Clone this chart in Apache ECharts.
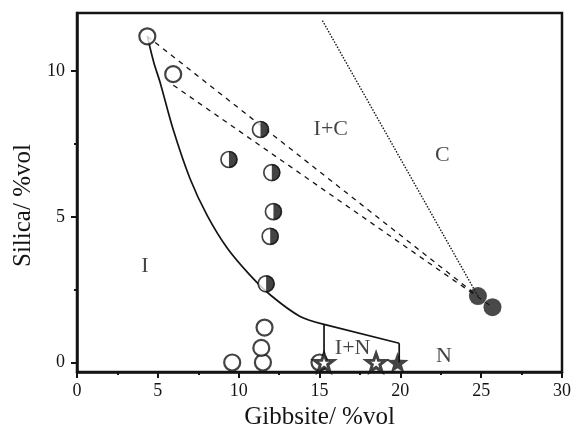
<!DOCTYPE html>
<html>
<head>
<meta charset="utf-8">
<script src="https://cdn.jsdelivr.net/npm/echarts@6/dist/echarts.min.js"></script>
<style>
  html, body { margin: 0; padding: 0; background: #fff; }
  #chart { width: 575px; height: 435px; }
</style>
</head>
<body>
<div id="chart"></div>
<script>
// points, [gibbsite, silica] in %vol
const openCircles = [[4.35, 11.2], [5.95, 9.9], [9.6, 0], [11.5, 0], [11.4, 0.5], [11.6, 1.2], [15.0, 0]];
const halfCircles = [[11.35, 8.0], [9.4, 6.97], [12.05, 6.52], [12.15, 5.18], [11.95, 4.33], [11.7, 2.7]];
const filledCircles = [[24.8, 2.28], [25.7, 1.9]];
const openStars = [[15.28, 0], [18.5, 0]];
const filledStars = [[19.83, 0]];

// phase boundaries
const boundaryCurve = [[4.35, 11.2], [4.75, 10.3], [5.15, 9.6], [5.95, 8.0], [7.0, 6.3],
  [8.05, 5.05], [9.3, 3.92], [10.7, 3.0], [12.0, 2.3], [13.8, 1.58], [15.28, 1.31]];
const ionBoundary = [[15.28, 1.31], [19.93, 0.66]];
const leftWall = [[15.28, 1.31], [15.28, 0]];
const rightWall = [[19.93, 0.66], [19.93, 0]];
const tieLineUpper = [[4.35, 11.2], [24.8, 2.28]];
const tieLineLower = [[5.96, 9.52], [25.7, 1.9]];
const dottedLine = [[15.18, 11.74], [24.8, 2.28]];

// region names and where they sit
const regionNames = ["I+C", "C", "I", "I+N", "N"];
const regionCoords = [[15.7, 8.0], [22.6, 7.1], [4.2, 3.3], [17.05, 0.5], [22.7, 0.2]];

// axes
const xTicks = [0, 5, 10, 15, 20, 25, 30];
const yMajor = [0, 5, 10];
const yMinor = [2.5, 7.5];

const serif = "Liberation Serif";
const ink = "#141414";
const starPath = "path://M0,-10L2.35,-3.24L9.51,-3.09L3.8,1.24L5.88,8.09L0,4L-5.88,8.09L-3.8,1.24L-9.51,-3.09L-2.35,-3.24Z";
const halfDisc = "path://M0,0A10,10 0 0,1 0,20Z";

const chart = echarts.init(document.getElementById("chart"));

function line(data, type, width) {
  return {
    type: "line",
    data: data,
    showSymbol: false,
    silent: true,
    lineStyle: { color: ink, width: width, type: type },
    z: 2,
  };
}

const curve = line(boundaryCurve, "solid", 1.7);
curve.smooth = 0.3;

const options = {
  animation: false,
  grid: {
    left: 77, right: 13, top: 13, bottom: 61,
    show: true, borderColor: ink, borderWidth: 2.5,
  },
  xAxis: {
    type: "value",
    min: xTicks[0],
    max: xTicks[xTicks.length - 1],
    interval: 5,
    name: "Gibbsite/ %vol",
    nameLocation: "middle",
    nameGap: 29,
    nameTextStyle: { fontFamily: serif, fontSize: 25, color: ink },
    axisLine: { onZero: false, lineStyle: { color: ink, width: 2.5 } },
    axisTick: { length: 6, lineStyle: { color: ink, width: 2 } },
    minorTick: { show: true, splitNumber: 2, length: 3, lineStyle: { color: ink, width: 2 } },
    splitLine: { show: false },
    axisLabel: { fontFamily: serif, fontSize: 18, color: ink, margin: 10 },
  },
  yAxis: [
    {
      type: "value",
      min: -0.33,
      max: 12,
      name: "Silica/ %vol",
      nameLocation: "middle",
      nameGap: 37,
      nameTextStyle: { fontFamily: serif, fontSize: 25, color: ink, padding: [0, 26, 0, 0] },
      axisLine: { onZero: false, lineStyle: { color: ink, width: 2.5 } },
      axisTick: { length: 6, customValues: yMajor, lineStyle: { color: ink, width: 2 } },
      splitLine: { show: false },
      axisLabel: { fontFamily: serif, fontSize: 18, color: ink, margin: 12, customValues: yMajor },
    },
    {
      type: "value",
      min: -0.33,
      max: 12,
      position: "left",
      axisLine: { show: false, onZero: false },
      axisTick: { length: 3, customValues: yMinor, lineStyle: { color: ink, width: 2 } },
      splitLine: { show: false },
      axisLabel: { show: false },
    },
  ],
  series: [
    curve,
    line(ionBoundary, "solid", 1.7),
    line(leftWall, "solid", 1.7),
    line(rightWall, "solid", 1.7),
    line(tieLineUpper, [5, 5], 1.3),
    line(tieLineLower, [5, 5], 1.3),
    line(dottedLine, [1.5, 1.5], 1.4),
    {
      type: "scatter",
      data: openCircles,
      symbol: "circle",
      symbolSize: 16,
      itemStyle: { color: "#fff", borderColor: ink, borderWidth: 2.2 },
      z: 3,
    },
    {
      type: "scatter",
      data: halfCircles,
      symbol: "circle",
      symbolSize: 16,
      itemStyle: { color: "#fff", borderColor: ink, borderWidth: 1.7 },
      z: 3,
    },
    {
      type: "scatter",
      data: halfCircles,
      symbol: halfDisc,
      symbolSize: [8.5, 17],
      symbolOffset: [4.25, 0],
      itemStyle: { color: ink },
      z: 4,
    },
    {
      type: "scatter",
      data: filledCircles,
      symbol: "circle",
      symbolSize: 18,
      itemStyle: { color: "#1c1c1c" },
      z: 3,
    },
    {
      type: "scatter",
      data: openStars,
      symbol: starPath,
      symbolKeepAspect: true,
      symbolSize: 19,
      itemStyle: { color: "#fff", borderColor: ink, borderWidth: 3 },
      z: 5,
    },
    {
      type: "scatter",
      data: filledStars,
      symbol: starPath,
      symbolKeepAspect: true,
      symbolSize: 22,
      itemStyle: { color: ink },
      z: 5,
    },
    {
      type: "scatter",
      data: regionCoords.map((c, i) => ({ value: c, name: regionNames[i] })),
      symbolSize: 0,
      silent: true,
      label: {
        show: true,
        position: "inside",
        formatter: "{b}",
        fontFamily: serif,
        fontSize: 22,
        color: ink,
      },
      z: 6,
    },
  ],
};

chart.setOption(options);
</script>
</body>
</html>
